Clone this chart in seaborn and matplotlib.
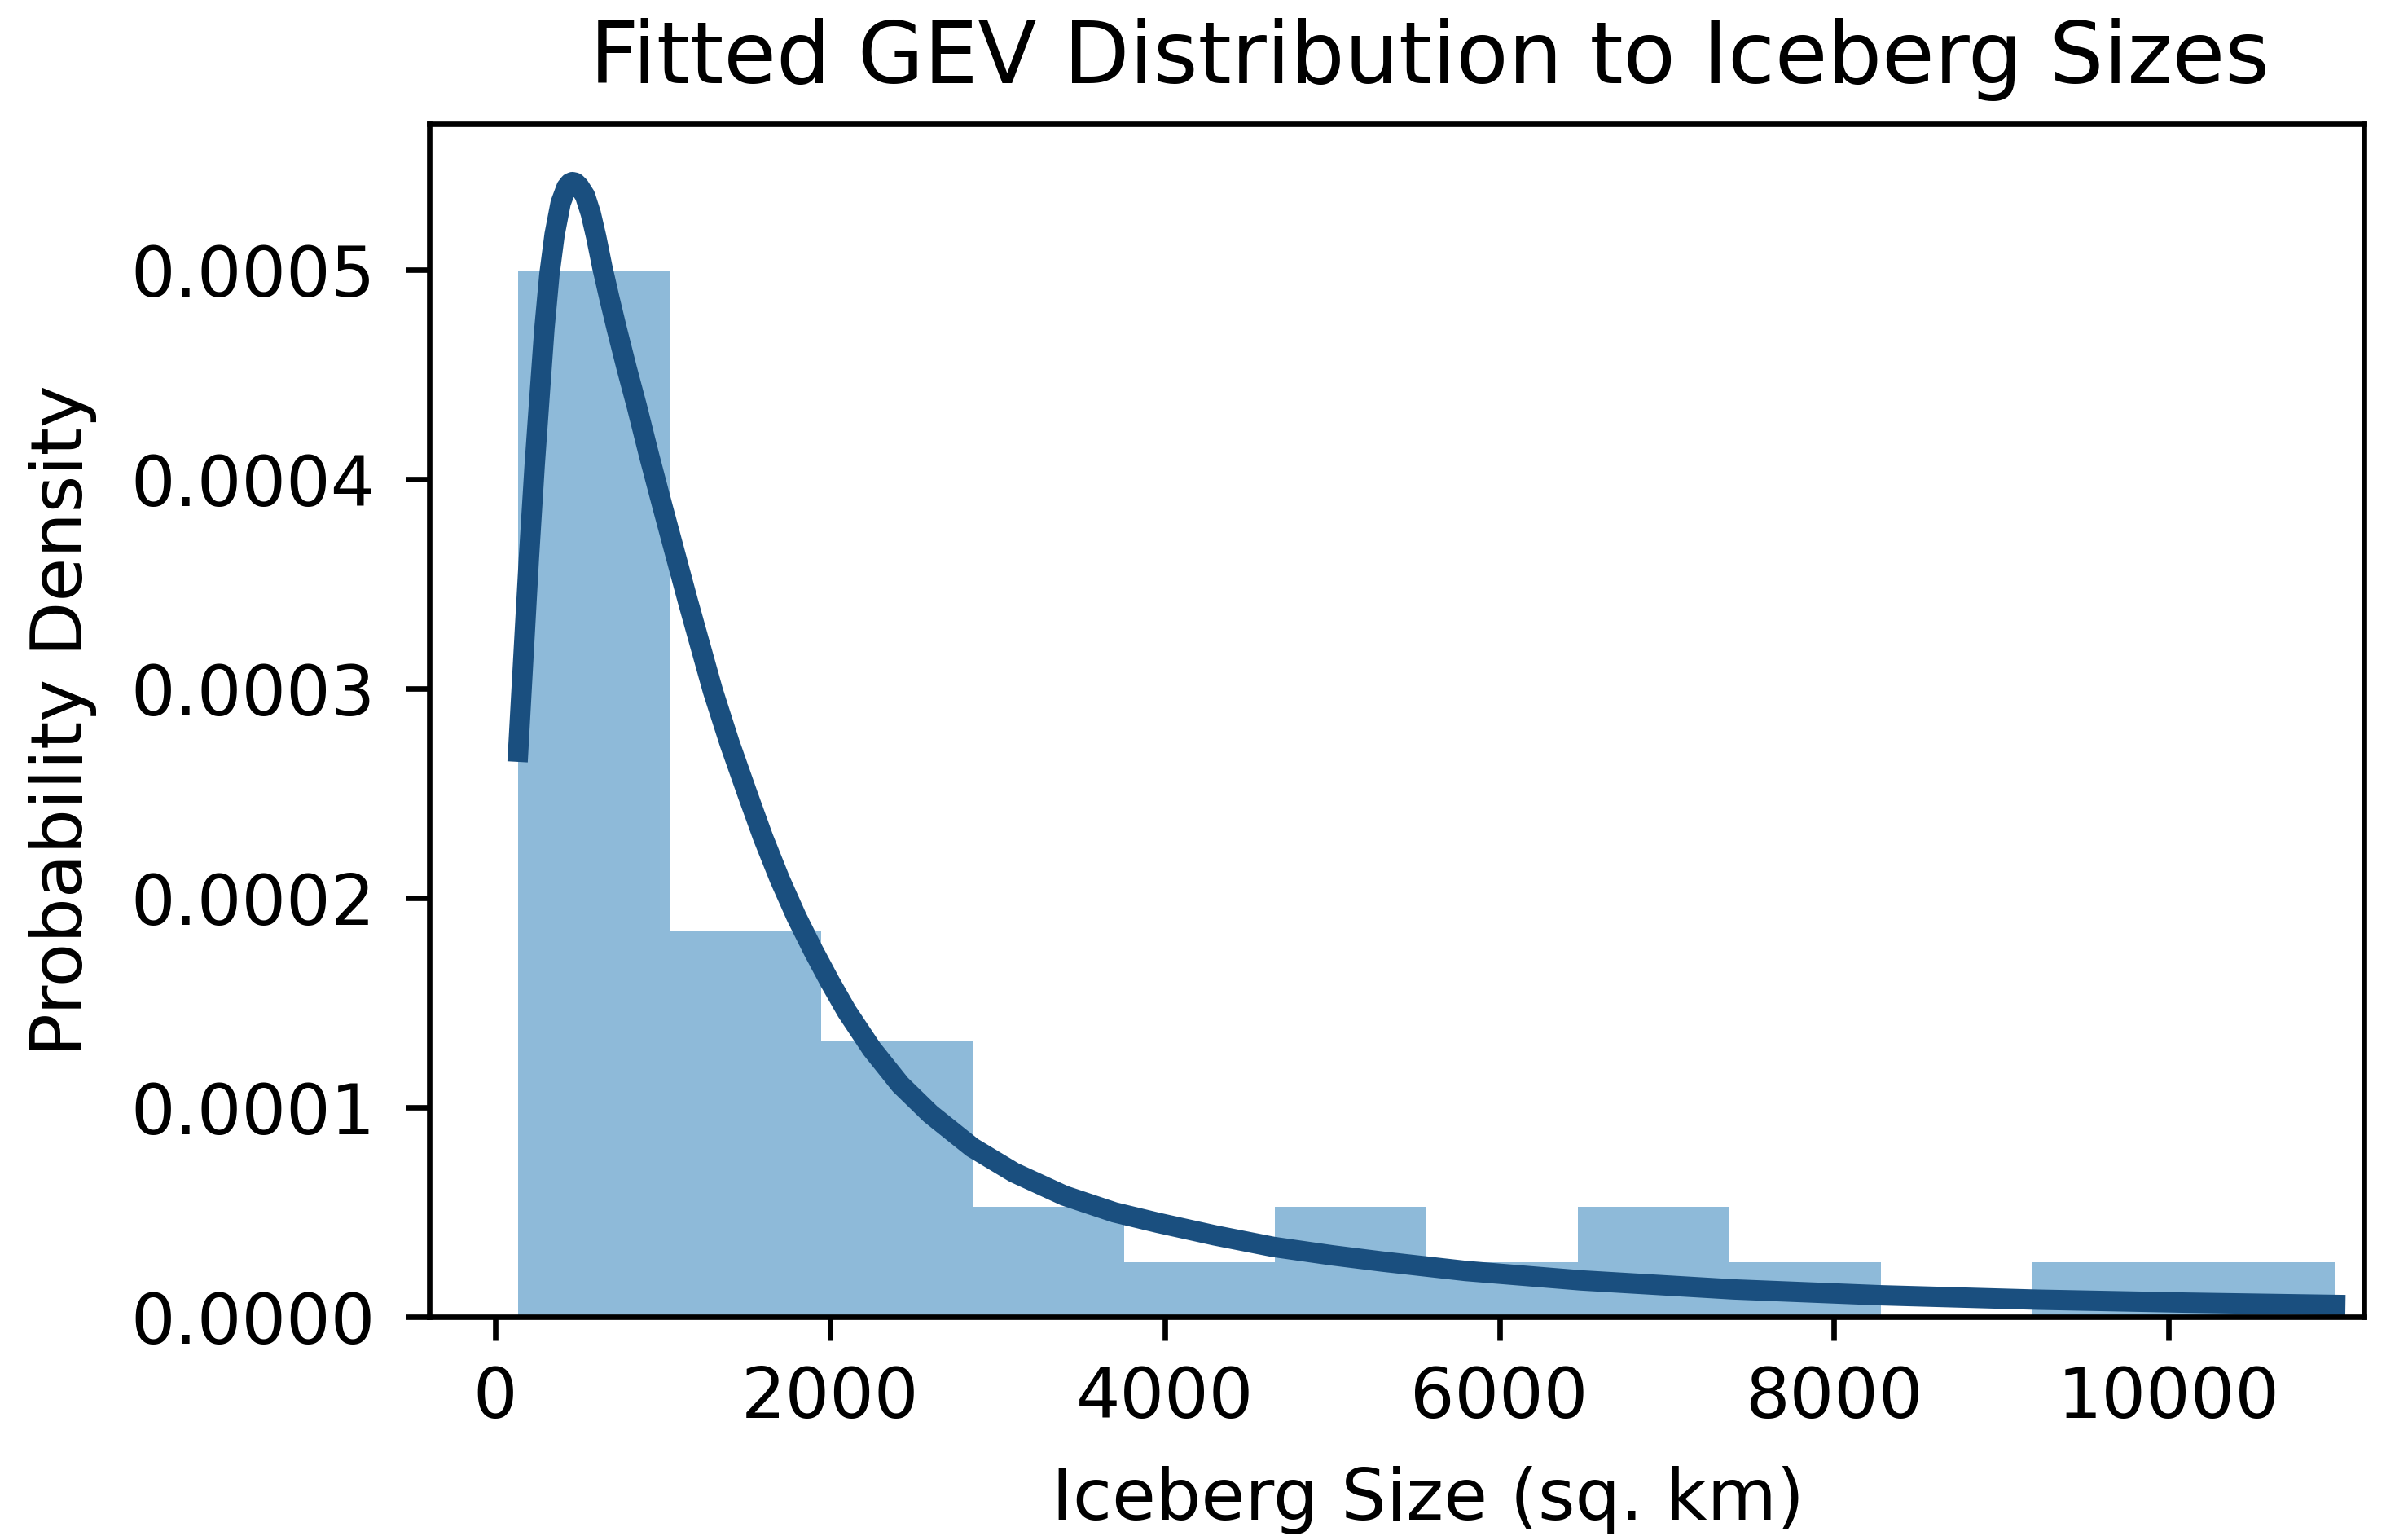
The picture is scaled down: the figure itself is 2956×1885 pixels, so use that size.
import matplotlib
matplotlib.use("Agg")
import matplotlib.pyplot as plt
import seaborn as sns

# ---- data ----
bin_edges = [136, 1041, 1946, 2851, 3756, 4661, 5566, 6471, 7376, 8281, 9186, 10091, 10996]
bin_counts = [19, 7, 5, 2, 1, 2, 1, 2, 1, 0, 1, 1]

curve_x = [136, 170, 200, 235, 266, 293, 323, 354, 390, 425, 445, 460, 478,
           500, 536, 570, 602, 640, 680, 725, 785, 845, 920, 999,
           1150, 1300, 1400, 1510, 1600, 1700, 1800, 1900, 2000, 2100,
           2250, 2420, 2600, 2850, 3100, 3400, 3700, 3960, 4300, 4650,
           5000, 5300, 5800, 6490, 7400, 8280, 9216, 10100, 10996]
curve_y_e4 = [2.70, 3.19, 3.62, 4.07, 4.42, 4.72, 4.98, 5.17, 5.32, 5.395, 5.415, 5.42, 5.417,
              5.40, 5.355, 5.27, 5.16, 5.01, 4.87, 4.72, 4.53, 4.35, 4.11, 3.87,
              3.42, 2.99, 2.74, 2.49, 2.29, 2.09, 1.91, 1.75, 1.60, 1.46,
              1.28, 1.11, 0.97, 0.81, 0.69, 0.58, 0.50, 0.45, 0.39, 0.335,
              0.295, 0.265, 0.220, 0.175, 0.132, 0.104, 0.083, 0.069, 0.058]

title = "Fitted GEV Distribution to Iceberg Sizes"
xlabel = "Iceberg Size (sq. km)"
ylabel = "Probability Density"
ytick_vals = [0, 0.0001, 0.0002, 0.0003, 0.0004, 0.0005]
ytick_labels = ["0.0000", "0.0001", "0.0002", "0.0003", "0.0004", "0.0005"]
xtick_vals = [0, 2000, 4000, 6000, 8000, 10000]

# ---- figure ----
W, H, DPI = 2956, 1885, 600
fig = plt.figure(figsize=(W / DPI, H / DPI), dpi=DPI)
left, right = 527 / W, 2902 / W
bottom, top = 1 - 1616.3 / H, 1 - 151.5 / H
ax = fig.add_axes([left, bottom, right - left, top - bottom])

centers = [(bin_edges[i] + bin_edges[i + 1]) / 2 for i in range(len(bin_counts))]
sns.histplot(x=centers, weights=bin_counts, bins=bin_edges, stat="density",
             color="#1f77b4", alpha=0.5, linewidth=0, ax=ax)

curve_y = [v * 1e-4 for v in curve_y_e4]
sns.lineplot(x=curve_x, y=curve_y, color="#1a4f7f", linewidth=3, ax=ax, legend=False)

ax.set_xlim(-395, 11168)
ax.set_ylim(0, 5.70e-4)
ax.set_yticks(ytick_vals)
ax.set_yticklabels(ytick_labels)
ax.set_xticks(xtick_vals)
ax.tick_params(labelsize=10.3)
ax.tick_params(axis="y", pad=4.5)

ax.set_title(title, fontsize=12.6, x=0.517)
ax.set_xlabel(xlabel, fontsize=10.5)
ax.set_ylabel(ylabel, fontsize=10.5)
ax.xaxis.set_label_coords(0.5163, -0.125)
ax.yaxis.set_label_coords(-0.172, 0.5)

fig.savefig("out.png", dpi=DPI)
